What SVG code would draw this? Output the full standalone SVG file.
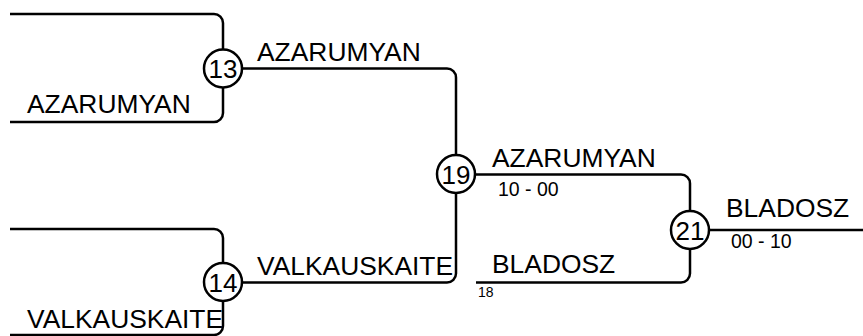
<svg xmlns="http://www.w3.org/2000/svg" width="863" height="336" viewBox="0 0 863 336">
<style>
.ln{fill:none;stroke:#000;stroke-width:2.5}
.nd{fill:#fff;stroke:#000;stroke-width:2.5}
.num{font-family:"Liberation Sans",Arial,sans-serif;font-size:26px;text-anchor:middle;fill:#000}
.nm{font-family:"Liberation Sans",Arial,sans-serif;font-size:26.4px;fill:#000}
.sc{font-family:"Liberation Sans",Arial,sans-serif;font-size:19.5px;fill:#000}
.sm{font-family:"Liberation Sans",Arial,sans-serif;font-size:14px;fill:#000}
</style>
<rect width="863" height="336" fill="#fff"/>
<g id="connectors">
<path class="ln" d="M10,14 H214 A9,9 0 0 1 223,23 V113 A9,9 0 0 1 214,122 H10"/>
<path class="ln" d="M10,229 H214 A9,9 0 0 1 223,238 V326 A9,9 0 0 1 214,335 H10"/>
<path class="ln" d="M223,68.5 H447 A9,9 0 0 1 456,77.5 V273.5 A9,9 0 0 1 447,282.5 H223"/>
<path class="ln" d="M456,174.5 H681 A9,9 0 0 1 690,183.5 V273.5 A9,9 0 0 1 681,282.5 H476"/>
<path class="ln" d="M690,230 H863"/>
</g>
<g id="labels">
<text class="nm" x="27" y="113">AZARUMYAN</text>
<text class="nm" x="27" y="328">VALKAUSKAITE</text>
<text class="nm" x="257" y="61">AZARUMYAN</text>
<text class="nm" x="257" y="275">VALKAUSKAITE</text>
<text class="nm" x="492" y="167">AZARUMYAN</text>
<text class="sc" x="498" y="196">10 - 00</text>
<text class="nm" x="492" y="273">BLADOSZ</text>
<text class="sm" x="478" y="297">18</text>
<text class="nm" x="726" y="217">BLADOSZ</text>
<text class="sc" x="731" y="248">00 - 10</text>
</g>
<g id="node13"><circle class="nd" cx="223" cy="68.5" r="19"/><text class="num" x="223" y="78">13</text></g>
<g id="node14"><circle class="nd" cx="223" cy="282" r="19"/><text class="num" x="223" y="291.5">14</text></g>
<g id="node19"><circle class="nd" cx="456" cy="174" r="19"/><text class="num" x="456" y="183.5">19</text></g>
<g id="node21"><circle class="nd" cx="690" cy="230" r="19"/><text class="num" x="690" y="239.5">21</text></g>
</svg>
